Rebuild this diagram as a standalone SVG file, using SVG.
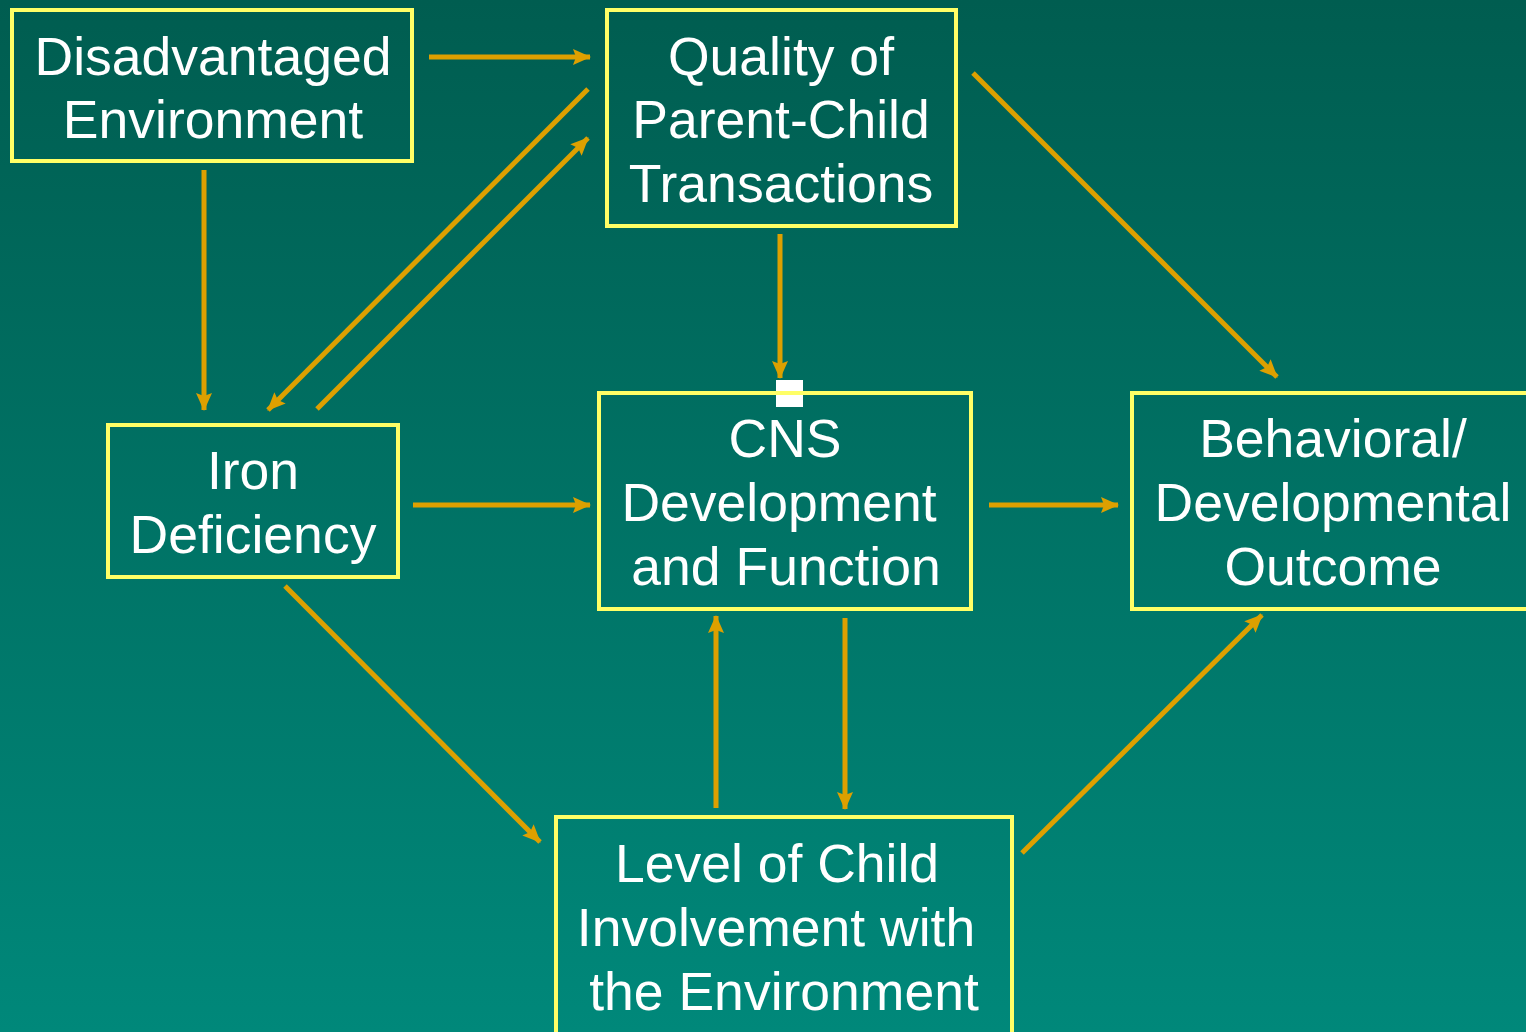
<svg xmlns="http://www.w3.org/2000/svg" width="1526" height="1032" viewBox="0 0 1526 1032">
<defs>
<linearGradient id="bg" x1="0" y1="0" x2="0" y2="1">
<stop offset="0" stop-color="#005D50"/>
<stop offset="1" stop-color="#00887A"/>
</linearGradient>
<marker id="ah" markerUnits="userSpaceOnUse" markerWidth="20" markerHeight="18" refX="17" refY="8" orient="auto" overflow="visible">
<path d="M0,0 L18,8 L0,16 L3,8 Z" fill="#DDA000"/>
</marker>
<style>
.box{fill:none;stroke:#FFFF66;stroke-width:4}
.t{font-family:"Liberation Sans",Arial,sans-serif;font-size:53.5px;fill:#FFFFFF;text-anchor:middle}
.c{stroke:#DDA000;stroke-width:5;fill:none;marker-end:url(#ah)}
</style>
</defs>
<rect width="1526" height="1032" fill="url(#bg)"/>
<g id="connectors">
<line class="c" x1="429" y1="57" x2="590" y2="57"/>
<line class="c" x1="204" y1="170" x2="204" y2="410"/>
<line class="c" x1="588" y1="89" x2="268" y2="410"/>
<line class="c" x1="317" y1="409" x2="588" y2="138"/>
<line class="c" x1="780" y1="234" x2="780" y2="378"/>
<line class="c" x1="973" y1="73" x2="1277" y2="377"/>
<line class="c" x1="413" y1="505" x2="590" y2="505"/>
<line class="c" x1="989" y1="505" x2="1118" y2="505"/>
<line class="c" x1="285" y1="586" x2="540" y2="842"/>
<line class="c" x1="716" y1="808" x2="716" y2="616"/>
<line class="c" x1="845" y1="618" x2="845" y2="809"/>
<line class="c" x1="1022" y1="853" x2="1262" y2="615"/>
</g>
<g id="disadvantaged">
<rect class="box" x="12" y="10" width="400" height="151"/>
<text class="t" x="213" y="75">Disadvantaged</text>
<text class="t" x="213" y="138">Environment</text>
</g>
<g id="quality">
<rect class="box" x="607" y="10" width="349" height="216"/>
<text class="t" x="781" y="75">Quality of</text>
<text class="t" x="781" y="138">Parent-Child</text>
<text class="t" x="781" y="202">Transactions</text>
</g>
<g id="iron">
<rect class="box" x="108" y="425" width="290" height="152"/>
<text class="t" x="253" y="489">Iron</text>
<text class="t" x="253" y="553">Deficiency</text>
</g>
<g id="cns">
<rect x="776" y="380" width="27" height="27" fill="#FFFFFF"/>
<rect class="box" x="599" y="393" width="372" height="216"/>
<text class="t" x="785" y="457">CNS</text>
<text class="t" x="779" y="521">Development</text>
<text class="t" x="786" y="585">and Function</text>
</g>
<g id="behavioral">
<rect class="box" x="1132" y="393" width="400" height="216"/>
<text class="t" x="1333" y="457">Behavioral/</text>
<text class="t" x="1333" y="521">Developmental</text>
<text class="t" x="1333" y="585">Outcome</text>
</g>
<g id="level">
<rect class="box" x="556" y="817" width="456" height="220"/>
<text class="t" x="777" y="882">Level of Child</text>
<text class="t" x="776" y="946">Involvement with</text>
<text class="t" x="784" y="1010">the Environment</text>
</g>
</svg>
